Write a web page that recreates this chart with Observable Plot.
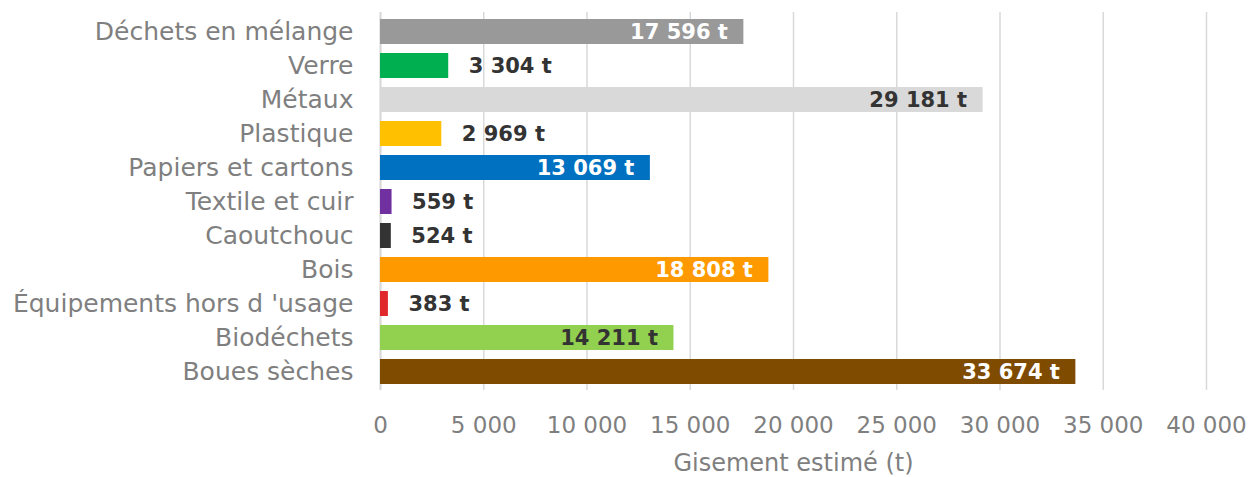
<!DOCTYPE html>
<html>
<head>
<meta charset="utf-8">
<script src="https://cdn.jsdelivr.net/npm/d3@7"></script>
<script src="https://cdn.jsdelivr.net/npm/@observablehq/plot@0.6"></script>
<style>
  html, body { margin: 0; padding: 0; background: #ffffff; }
</style>
</head>
<body>
<div id="chart"></div>
<script>
const categories = [
  "Déchets en mélange",
  "Verre",
  "Métaux",
  "Plastique",
  "Papiers et cartons",
  "Textile et cuir",
  "Caoutchouc",
  "Bois",
  "Équipements hors d 'usage",
  "Biodéchets",
  "Boues sèches"
];
const values = [17596, 3304, 29181, 2969, 13069, 559, 524, 18808, 383, 14211, 33674];
const barColors = ["#999999", "#00B050", "#D9D9D9", "#FFC000", "#0070C0", "#7030A0", "#333333", "#FF9900", "#E0282C", "#92D050", "#7F4B00"];
const xTicks = [0, 5000, 10000, 15000, 20000, 25000, 30000, 35000, 40000];
const xLabel = "Gisement estimé (t)";

const fmt = v => d3.format(",")(v).replace(/,/g, " ");
const data = categories.map((c, i) => ({
  category: c,
  value: values[i],
  color: barColors[i],
  ink: d3.lab(barColors[i]).l > 75 ? "#333333" : "#ffffff"
}));
const inside = data.filter(d => d.value > 10000);
const outside = data.filter(d => d.value <= 10000);

const chart = Plot.plot({
  width: 1248,
  height: 477,
  marginLeft: 380,
  marginRight: 42,
  marginTop: 12,
  marginBottom: 87,
  style: { fontFamily: "'DejaVu Sans', sans-serif", background: "#ffffff" },
  x: { domain: [0, 40000] },
  y: { domain: categories, paddingInner: 0.27, paddingOuter: 0.14 },
  marks: [
    Plot.gridX(xTicks, { stroke: "#d9d9d9", strokeOpacity: 1, strokeWidth: 1.5 }),
    Plot.ruleX([0], { stroke: "#d9d9d9", strokeWidth: 2 }),
    Plot.barX(data, { x: "value", y: "category", fill: "color" }),
    Plot.text(inside, {
      x: "value", y: "category", text: d => fmt(d.value) + " t",
      textAnchor: "end", dx: -16, fill: "ink", fontWeight: "bold", fontSize: 21
    }),
    Plot.text(outside, {
      x: "value", y: "category", text: d => fmt(d.value) + " t",
      textAnchor: "start", dx: 20, fill: "#333333", fontWeight: "bold", fontSize: 21
    }),
    Plot.axisY({ tickSize: 0, tickPadding: 27, fontSize: 25, fill: "#7f7f7f", label: null }),
    Plot.axisX(xTicks, { tickSize: 0, tickPadding: 26, fontSize: 23, fill: "#7f7f7f", tickFormat: fmt, label: null }),
    Plot.text([xLabel], { frameAnchor: "bottom", dy: 73, lineAnchor: "middle", fontSize: 24, fill: "#7f7f7f" })
  ]
});
document.getElementById("chart").appendChild(chart);
</script>
</body>
</html>
